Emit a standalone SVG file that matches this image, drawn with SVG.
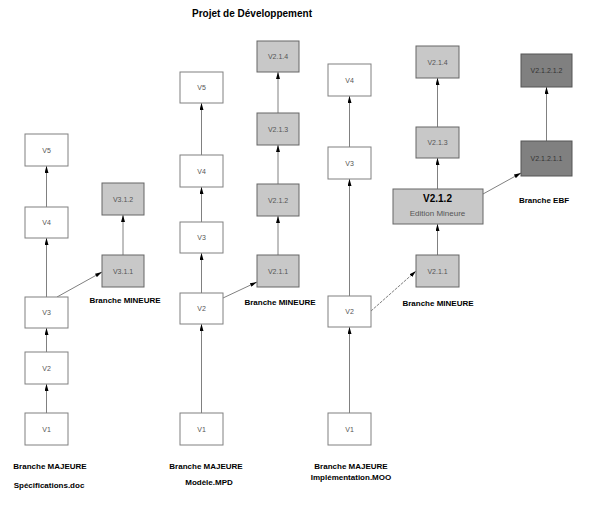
<svg xmlns="http://www.w3.org/2000/svg" width="591" height="512" viewBox="0 0 591 512">
<defs>
<marker id="ah" viewBox="0 0 7 4" markerWidth="7" markerHeight="4" refX="7" refY="2" orient="auto" markerUnits="userSpaceOnUse">
<path d="M0,0 L7,2 L0,4 z" fill="#000"/>
</marker>
<style>
.b{fill:#fff;stroke:#808080;stroke-width:1}
.g{fill:#c8c8c8;stroke:#666;stroke-width:1}
.d{fill:#808080;stroke:#555;stroke-width:1}
.t{font-family:"Liberation Sans",Arial,sans-serif;font-size:7px;fill:#555;text-anchor:middle}
.l{font-family:"Liberation Sans",Arial,sans-serif;font-size:8px;font-weight:bold;fill:#000;text-anchor:middle}
.e{stroke:#808080;stroke-width:1;fill:none;marker-end:url(#ah)}
</style>
</defs>
<rect width="591" height="512" fill="#fff"/>
<text x="252" y="17" class="l" style="font-size:10px">Projet de Développement</text>

<g id="connectors">
<line class="e" x1="46.5" y1="413" x2="46.5" y2="384"/>
<line class="e" x1="46.5" y1="352" x2="46.5" y2="328"/>
<line class="e" x1="46.5" y1="297" x2="46.5" y2="238"/>
<line class="e" x1="46.5" y1="207" x2="46.5" y2="166"/>
<line class="e" x1="57" y1="297" x2="102" y2="272"/>
<line class="e" x1="123" y1="255" x2="123" y2="215"/>

<line class="e" x1="201.5" y1="413" x2="201.5" y2="324"/>
<line class="e" x1="201.5" y1="293" x2="201.5" y2="253"/>
<line class="e" x1="201.5" y1="222" x2="201.5" y2="187"/>
<line class="e" x1="201.5" y1="155" x2="201.5" y2="103"/>
<line class="e" x1="223" y1="298" x2="257" y2="282"/>
<line class="e" x1="278" y1="255" x2="278" y2="216"/>
<line class="e" x1="278" y1="184" x2="278" y2="145"/>
<line class="e" x1="278" y1="113" x2="278" y2="72"/>

<line class="e" x1="349.5" y1="413" x2="349.5" y2="327"/>
<line class="e" x1="349.5" y1="296" x2="349.5" y2="179"/>
<line class="e" x1="349.5" y1="147" x2="349.5" y2="96"/>
<line class="e" x1="371" y1="311" x2="416" y2="271" stroke-dasharray="3,1"/>
<line class="e" x1="437.5" y1="255" x2="437.5" y2="224"/>
<line class="e" x1="437.5" y1="189" x2="437.5" y2="158"/>
<line class="e" x1="437.5" y1="127" x2="437.5" y2="78"/>
<line class="e" x1="483" y1="194" x2="521" y2="173"/>
<line class="e" x1="546.5" y1="141" x2="546.5" y2="87"/>
</g>

<g id="c1-v1"><rect class="b" x="25" y="413" width="43" height="32"/><text class="t" x="46.5" y="431.5">V1</text></g>
<g id="c1-v2"><rect class="b" x="25" y="352" width="43" height="32"/><text class="t" x="46.5" y="370.5">V2</text></g>
<g id="c1-v3"><rect class="b" x="25" y="297" width="43" height="31"/><text class="t" x="46.5" y="315">V3</text></g>
<g id="c1-v4"><rect class="b" x="25" y="207" width="43" height="31"/><text class="t" x="46.5" y="225">V4</text></g>
<g id="c1-v5"><rect class="b" x="25" y="134" width="43" height="32"/><text class="t" x="46.5" y="152.5">V5</text></g>
<g id="c1-v311"><rect class="g" x="102" y="255" width="42" height="32"/><text class="t" x="123" y="273.5">V3.1.1</text></g>
<g id="c1-v312"><rect class="g" x="102" y="183" width="42" height="32"/><text class="t" x="123" y="201.5">V3.1.2</text></g>
<text class="l" x="125" y="303">Branche MINEURE</text>
<text class="l" x="50" y="469">Branche MAJEURE</text>
<text class="l" x="49" y="488">Spécifications.doc</text>

<g id="c2-v1"><rect class="b" x="180" y="413" width="43" height="32"/><text class="t" x="201.5" y="431.5">V1</text></g>
<g id="c2-v2"><rect class="b" x="180" y="293" width="43" height="31"/><text class="t" x="201.5" y="311">V2</text></g>
<g id="c2-v3"><rect class="b" x="180" y="222" width="43" height="31"/><text class="t" x="201.5" y="240">V3</text></g>
<g id="c2-v4"><rect class="b" x="180" y="155" width="43" height="32"/><text class="t" x="201.5" y="173.5">V4</text></g>
<g id="c2-v5"><rect class="b" x="180" y="72" width="43" height="31"/><text class="t" x="201.5" y="90">V5</text></g>
<g id="c2-v211"><rect class="g" x="257" y="255" width="42" height="32"/><text class="t" x="278" y="273.5">V2.1.1</text></g>
<g id="c2-v212"><rect class="g" x="257" y="184" width="42" height="32"/><text class="t" x="278" y="202.5">V2.1.2</text></g>
<g id="c2-v213"><rect class="g" x="257" y="113" width="42" height="32"/><text class="t" x="278" y="131.5">V2.1.3</text></g>
<g id="c2-v214"><rect class="g" x="257" y="41" width="42" height="31"/><text class="t" x="278" y="59">V2.1.4</text></g>
<text class="l" x="280" y="305">Branche MINEURE</text>
<text class="l" x="206" y="469">Branche MAJEURE</text>
<text class="l" x="209" y="485">Modèle.MPD</text>

<g id="c3-v1"><rect class="b" x="328" y="413" width="43" height="32"/><text class="t" x="349.5" y="431.5">V1</text></g>
<g id="c3-v2"><rect class="b" x="328" y="296" width="43" height="31"/><text class="t" x="349.5" y="314">V2</text></g>
<g id="c3-v3"><rect class="b" x="328" y="147" width="43" height="32"/><text class="t" x="349.5" y="165.5">V3</text></g>
<g id="c3-v4"><rect class="b" x="328" y="64" width="43" height="32"/><text class="t" x="349.5" y="82.5">V4</text></g>
<g id="c3-v211"><rect class="g" x="416" y="255" width="43" height="32"/><text class="t" x="437.5" y="273.5">V2.1.1</text></g>
<g id="c3-v212"><rect class="g" x="393" y="189" width="90" height="35"/><text class="l" x="437.5" y="202" style="font-size:10px">V2.1.2</text><text class="t" x="437.5" y="215.5" style="font-size:8px">Edition Mineure</text></g>
<g id="c3-v213"><rect class="g" x="416" y="127" width="43" height="31"/><text class="t" x="437.5" y="145">V2.1.3</text></g>
<g id="c3-v214"><rect class="g" x="416" y="46" width="43" height="32"/><text class="t" x="437.5" y="64.5">V2.1.4</text></g>
<g id="c3-v21211"><rect class="d" x="521" y="141" width="51" height="35"/><text class="t" x="546.5" y="161" style="fill:#333">V2.1.2.1.1</text></g>
<g id="c3-v21212"><rect class="d" x="521" y="54" width="51" height="33"/><text class="t" x="546.5" y="73" style="fill:#333">V2.1.2.1.2</text></g>
<text class="l" x="544" y="203">Branche EBF</text>
<text class="l" x="438" y="306">Branche MINEURE</text>
<text class="l" x="351" y="469">Branche MAJEURE</text>
<text class="l" x="351" y="480">Implémentation.MOO</text>
</svg>
